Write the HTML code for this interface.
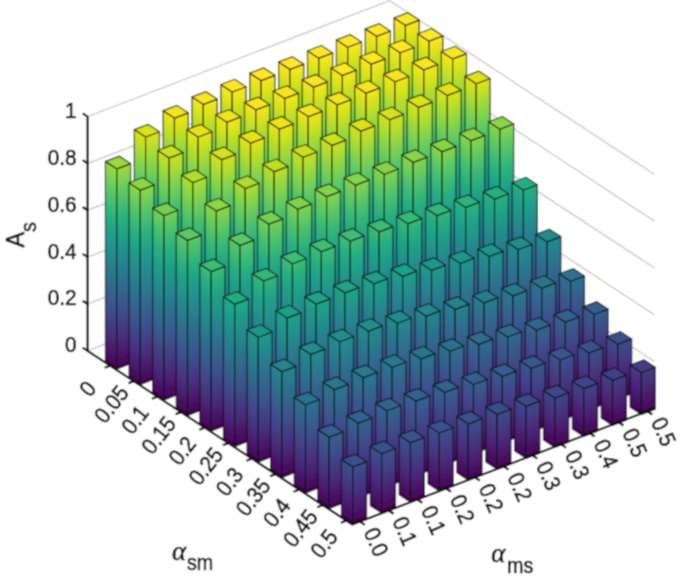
<!DOCTYPE html>
<html><head><meta charset="utf-8"><title>A_s bar chart</title><style>html,body{margin:0;padding:0;background:#fff}svg{display:block}</style></head><body>
<svg width="681" height="578" viewBox="0 0 681 578">
<defs><linearGradient id="gl" gradientUnits="userSpaceOnUse" x1="0" y1="0" x2="107.46" y2="-163.62"><stop offset="0" stop-color="#440154"/><stop offset="0.0625" stop-color="#48186a"/><stop offset="0.125" stop-color="#472d7b"/><stop offset="0.1875" stop-color="#424086"/><stop offset="0.25" stop-color="#3b528b"/><stop offset="0.3125" stop-color="#33638d"/><stop offset="0.375" stop-color="#2c728e"/><stop offset="0.4375" stop-color="#26828e"/><stop offset="0.5" stop-color="#21918c"/><stop offset="0.5625" stop-color="#1fa088"/><stop offset="0.625" stop-color="#28ae80"/><stop offset="0.6875" stop-color="#3fbc73"/><stop offset="0.75" stop-color="#5ec962"/><stop offset="0.8125" stop-color="#84d44b"/><stop offset="0.875" stop-color="#addc30"/><stop offset="0.9375" stop-color="#d8e219"/><stop offset="1" stop-color="#fde725"/></linearGradient><linearGradient id="gr" gradientUnits="userSpaceOnUse" x1="0" y1="0" x2="-77.66" y2="-204.75"><stop offset="0" stop-color="#440154"/><stop offset="0.0625" stop-color="#48186a"/><stop offset="0.125" stop-color="#472d7b"/><stop offset="0.1875" stop-color="#424086"/><stop offset="0.25" stop-color="#3b528b"/><stop offset="0.3125" stop-color="#33638d"/><stop offset="0.375" stop-color="#2c728e"/><stop offset="0.4375" stop-color="#26828e"/><stop offset="0.5" stop-color="#21918c"/><stop offset="0.5625" stop-color="#1fa088"/><stop offset="0.625" stop-color="#28ae80"/><stop offset="0.6875" stop-color="#3fbc73"/><stop offset="0.75" stop-color="#5ec962"/><stop offset="0.8125" stop-color="#84d44b"/><stop offset="0.875" stop-color="#addc30"/><stop offset="0.9375" stop-color="#d8e219"/><stop offset="1" stop-color="#fde725"/></linearGradient><filter id="bl" x="0" y="0" width="100%" height="100%" filterUnits="userSpaceOnUse" primitiveUnits="userSpaceOnUse"><feConvolveMatrix order="3" kernelMatrix="1 2 1 2 6 2 1 2 1" divisor="18" edgeMode="duplicate" preserveAlpha="true"/></filter></defs>
<g filter="url(#bl)">
<rect width="681" height="578" fill="#fff"/>
<g fill="none" stroke="#cdcdcd" stroke-width="1.5"><polyline points="87.6,350.8 389.7,234.8 654.4,408.5"/><polyline points="87.6,303.96 389.7,187.96 654.4,361.66"/><polyline points="87.6,257.12 389.7,141.12 654.4,314.82"/><polyline points="87.6,210.28 389.7,94.28 654.4,267.98"/><polyline points="87.6,163.44 389.7,47.44 654.4,221.14"/><polyline points="87.6,116.6 389.7,0.6 654.4,174.3"/></g>
<g stroke="#0c0c0c" stroke-opacity="0.74" stroke-width="1.25" stroke-linejoin="round"><g transform="translate(406.7,253.2)"><g transform="translate(-1.26,6.35)"><polygon fill="url(#gl)" points="-11.33,-7.44 0,0 0,-234.2 -11.33,-241.64"/></g><g transform="translate(-1.26,6.35)"><polygon fill="url(#gr)" points="0,0 13.86,-5.26 13.86,-239.46 0,-234.2"/></g><polygon fill="#fde725" points="-12.59,-235.29 -1.26,-227.85 12.59,-233.11 1.26,-240.55"/></g><g transform="translate(377.83,264.15)"><g transform="translate(-1.26,6.35)"><polygon fill="url(#gl)" points="-11.33,-7.44 0,0 0,-234.2 -11.33,-241.64"/></g><g transform="translate(-1.26,6.35)"><polygon fill="url(#gr)" points="0,0 13.86,-5.26 13.86,-239.46 0,-234.2"/></g><polygon fill="#fde725" points="-12.59,-235.29 -1.26,-227.85 12.59,-233.11 1.26,-240.55"/></g><g transform="translate(348.96,275.1)"><g transform="translate(-1.26,6.35)"><polygon fill="url(#gl)" points="-11.33,-7.44 0,0 0,-234.2 -11.33,-241.64"/></g><g transform="translate(-1.26,6.35)"><polygon fill="url(#gr)" points="0,0 13.86,-5.26 13.86,-239.46 0,-234.2"/></g><polygon fill="#fde725" points="-12.59,-235.29 -1.26,-227.85 12.59,-233.11 1.26,-240.55"/></g><g transform="translate(320.09,286.05)"><g transform="translate(-1.26,6.35)"><polygon fill="url(#gl)" points="-11.33,-7.44 0,0 0,-234.2 -11.33,-241.64"/></g><g transform="translate(-1.26,6.35)"><polygon fill="url(#gr)" points="0,0 13.86,-5.26 13.86,-239.46 0,-234.2"/></g><polygon fill="#fde725" points="-12.59,-235.29 -1.26,-227.85 12.59,-233.11 1.26,-240.55"/></g><g transform="translate(291.22,297)"><g transform="translate(-1.26,6.35)"><polygon fill="url(#gl)" points="-11.33,-7.44 0,0 0,-233.97 -11.33,-241.41"/></g><g transform="translate(-1.26,6.35)"><polygon fill="url(#gr)" points="0,0 13.86,-5.26 13.86,-239.22 0,-233.97"/></g><polygon fill="#fde725" points="-12.59,-235.06 -1.26,-227.62 12.59,-232.87 1.26,-240.31"/></g><g transform="translate(262.35,307.95)"><g transform="translate(-1.26,6.35)"><polygon fill="url(#gl)" points="-11.33,-7.44 0,0 0,-233.73 -11.33,-241.17"/></g><g transform="translate(-1.26,6.35)"><polygon fill="url(#gr)" points="0,0 13.86,-5.26 13.86,-238.99 0,-233.73"/></g><polygon fill="#fde725" points="-12.59,-234.82 -1.26,-227.38 12.59,-232.64 1.26,-240.08"/></g><g transform="translate(233.48,318.9)"><g transform="translate(-1.26,6.35)"><polygon fill="url(#gl)" points="-11.33,-7.44 0,0 0,-233.26 -11.33,-240.7"/></g><g transform="translate(-1.26,6.35)"><polygon fill="url(#gr)" points="0,0 13.86,-5.26 13.86,-238.52 0,-233.26"/></g><polygon fill="#fbe723" points="-12.59,-234.36 -1.26,-226.92 12.59,-232.17 1.26,-239.61"/></g><g transform="translate(204.61,329.85)"><g transform="translate(-1.26,6.35)"><polygon fill="url(#gl)" points="-11.33,-7.44 0,0 0,-231.86 -11.33,-239.3"/></g><g transform="translate(-1.26,6.35)"><polygon fill="url(#gr)" points="0,0 13.86,-5.26 13.86,-237.11 0,-231.86"/></g><polygon fill="#f8e621" points="-12.59,-232.95 -1.26,-225.51 12.59,-230.77 1.26,-238.21"/></g><g transform="translate(175.74,340.8)"><g transform="translate(-1.26,6.35)"><polygon fill="url(#gl)" points="-11.33,-7.44 0,0 0,-229.05 -11.33,-236.49"/></g><g transform="translate(-1.26,6.35)"><polygon fill="url(#gr)" points="0,0 13.86,-5.26 13.86,-234.3 0,-229.05"/></g><polygon fill="#f1e51d" points="-12.59,-230.14 -1.26,-222.7 12.59,-227.96 1.26,-235.4"/></g><g transform="translate(146.87,351.75)"><g transform="translate(-1.26,6.35)"><polygon fill="url(#gl)" points="-11.33,-7.44 0,0 0,-221.08 -11.33,-228.52"/></g><g transform="translate(-1.26,6.35)"><polygon fill="url(#gr)" points="0,0 13.86,-5.26 13.86,-226.34 0,-221.08"/></g><polygon fill="#dae319" points="-12.59,-222.18 -1.26,-214.74 12.59,-219.99 1.26,-227.43"/></g><g transform="translate(118,362.7)"><g transform="translate(-1.26,6.35)"><polygon fill="url(#gl)" points="-11.33,-7.44 0,0 0,-200.24 -11.33,-207.68"/></g><g transform="translate(-1.26,6.35)"><polygon fill="url(#gr)" points="0,0 13.86,-5.26 13.86,-205.5 0,-200.24"/></g><polygon fill="#9dd93b" points="-12.59,-201.33 -1.26,-193.89 12.59,-199.15 1.26,-206.59"/></g><g transform="translate(430.3,268.7)"><g transform="translate(-1.26,6.35)"><polygon fill="url(#gl)" points="-11.33,-7.44 0,0 0,-233.85 -11.33,-241.29"/></g><g transform="translate(-1.26,6.35)"><polygon fill="url(#gr)" points="0,0 13.86,-5.26 13.86,-239.1 0,-233.85"/></g><polygon fill="#fde725" points="-12.59,-234.94 -1.26,-227.5 12.59,-232.76 1.26,-240.2"/></g><g transform="translate(401.43,279.65)"><g transform="translate(-1.26,6.35)"><polygon fill="url(#gl)" points="-11.33,-7.44 0,0 0,-233.26 -11.33,-240.7"/></g><g transform="translate(-1.26,6.35)"><polygon fill="url(#gr)" points="0,0 13.86,-5.26 13.86,-238.52 0,-233.26"/></g><polygon fill="#fbe723" points="-12.59,-234.36 -1.26,-226.92 12.59,-232.17 1.26,-239.61"/></g><g transform="translate(372.56,290.6)"><g transform="translate(-1.26,6.35)"><polygon fill="url(#gl)" points="-11.33,-7.44 0,0 0,-232.75 -11.33,-240.19"/></g><g transform="translate(-1.26,6.35)"><polygon fill="url(#gr)" points="0,0 13.86,-5.26 13.86,-238 0,-232.75"/></g><polygon fill="#fbe723" points="-12.59,-233.84 -1.26,-226.4 12.59,-231.66 1.26,-239.1"/></g><g transform="translate(343.69,301.55)"><g transform="translate(-1.26,6.35)"><polygon fill="url(#gl)" points="-11.33,-7.44 0,0 0,-232.49 -11.33,-239.93"/></g><g transform="translate(-1.26,6.35)"><polygon fill="url(#gr)" points="0,0 13.86,-5.26 13.86,-237.75 0,-232.49"/></g><polygon fill="#fbe723" points="-12.59,-233.58 -1.26,-226.14 12.59,-231.4 1.26,-238.84"/></g><g transform="translate(314.82,312.5)"><g transform="translate(-1.26,6.35)"><polygon fill="url(#gl)" points="-11.33,-7.44 0,0 0,-231.74 -11.33,-239.18"/></g><g transform="translate(-1.26,6.35)"><polygon fill="url(#gr)" points="0,0 13.86,-5.26 13.86,-237 0,-231.74"/></g><polygon fill="#f8e621" points="-12.59,-232.83 -1.26,-225.39 12.59,-230.65 1.26,-238.09"/></g><g transform="translate(285.95,323.45)"><g transform="translate(-1.26,6.35)"><polygon fill="url(#gl)" points="-11.33,-7.44 0,0 0,-231.39 -11.33,-238.83"/></g><g transform="translate(-1.26,6.35)"><polygon fill="url(#gr)" points="0,0 13.86,-5.26 13.86,-236.65 0,-231.39"/></g><polygon fill="#f6e620" points="-12.59,-232.48 -1.26,-225.04 12.59,-230.3 1.26,-237.74"/></g><g transform="translate(257.08,334.4)"><g transform="translate(-1.26,6.35)"><polygon fill="url(#gl)" points="-11.33,-7.44 0,0 0,-230.92 -11.33,-238.36"/></g><g transform="translate(-1.26,6.35)"><polygon fill="url(#gr)" points="0,0 13.86,-5.26 13.86,-236.18 0,-230.92"/></g><polygon fill="#f6e620" points="-12.59,-232.01 -1.26,-224.57 12.59,-229.83 1.26,-237.27"/></g><g transform="translate(228.21,345.35)"><g transform="translate(-1.26,6.35)"><polygon fill="url(#gl)" points="-11.33,-7.44 0,0 0,-229.52 -11.33,-236.96"/></g><g transform="translate(-1.26,6.35)"><polygon fill="url(#gr)" points="0,0 13.86,-5.26 13.86,-234.77 0,-229.52"/></g><polygon fill="#f1e51d" points="-12.59,-230.61 -1.26,-223.17 12.59,-228.42 1.26,-235.86"/></g><g transform="translate(199.34,356.3)"><g transform="translate(-1.26,6.35)"><polygon fill="url(#gl)" points="-11.33,-7.44 0,0 0,-225.65 -11.33,-233.09"/></g><g transform="translate(-1.26,6.35)"><polygon fill="url(#gr)" points="0,0 13.86,-5.26 13.86,-230.91 0,-225.65"/></g><polygon fill="#e7e419" points="-12.59,-226.74 -1.26,-219.3 12.59,-224.56 1.26,-232"/></g><g transform="translate(170.47,367.25)"><g transform="translate(-1.26,6.35)"><polygon fill="url(#gl)" points="-11.33,-7.44 0,0 0,-215.7 -11.33,-223.14"/></g><g transform="translate(-1.26,6.35)"><polygon fill="url(#gr)" points="0,0 13.86,-5.26 13.86,-220.95 0,-215.7"/></g><polygon fill="#cae11f" points="-12.59,-216.79 -1.26,-209.35 12.59,-214.61 1.26,-222.05"/></g><g transform="translate(141.6,378.2)"><g transform="translate(-1.26,6.35)"><polygon fill="url(#gl)" points="-11.33,-7.44 0,0 0,-194.39 -11.33,-201.83"/></g><g transform="translate(-1.26,6.35)"><polygon fill="url(#gr)" points="0,0 13.86,-5.26 13.86,-199.64 0,-194.39"/></g><polygon fill="#8ed645" points="-12.59,-195.48 -1.26,-188.04 12.59,-193.29 1.26,-200.73"/></g><g transform="translate(453.9,284.2)"><g transform="translate(-1.26,6.35)"><polygon fill="url(#gl)" points="-11.33,-7.44 0,0 0,-231.62 -11.33,-239.06"/></g><g transform="translate(-1.26,6.35)"><polygon fill="url(#gr)" points="0,0 13.86,-5.26 13.86,-236.88 0,-231.62"/></g><polygon fill="#f8e621" points="-12.59,-232.72 -1.26,-225.28 12.59,-230.53 1.26,-237.97"/></g><g transform="translate(425.03,295.15)"><g transform="translate(-1.26,6.35)"><polygon fill="url(#gl)" points="-11.33,-7.44 0,0 0,-231.62 -11.33,-239.06"/></g><g transform="translate(-1.26,6.35)"><polygon fill="url(#gr)" points="0,0 13.86,-5.26 13.86,-236.88 0,-231.62"/></g><polygon fill="#f8e621" points="-12.59,-232.72 -1.26,-225.28 12.59,-230.53 1.26,-237.97"/></g><g transform="translate(396.16,306.1)"><g transform="translate(-1.26,6.35)"><polygon fill="url(#gl)" points="-11.33,-7.44 0,0 0,-230.69 -11.33,-238.13"/></g><g transform="translate(-1.26,6.35)"><polygon fill="url(#gr)" points="0,0 13.86,-5.26 13.86,-235.94 0,-230.69"/></g><polygon fill="#f6e620" points="-12.59,-231.78 -1.26,-224.34 12.59,-229.59 1.26,-237.03"/></g><g transform="translate(367.29,317.05)"><g transform="translate(-1.26,6.35)"><polygon fill="url(#gl)" points="-11.33,-7.44 0,0 0,-230.22 -11.33,-237.66"/></g><g transform="translate(-1.26,6.35)"><polygon fill="url(#gr)" points="0,0 13.86,-5.26 13.86,-235.47 0,-230.22"/></g><polygon fill="#f4e61e" points="-12.59,-231.31 -1.26,-223.87 12.59,-229.13 1.26,-236.57"/></g><g transform="translate(338.42,328)"><g transform="translate(-1.26,6.35)"><polygon fill="url(#gl)" points="-11.33,-7.44 0,0 0,-229.52 -11.33,-236.96"/></g><g transform="translate(-1.26,6.35)"><polygon fill="url(#gr)" points="0,0 13.86,-5.26 13.86,-234.77 0,-229.52"/></g><polygon fill="#f1e51d" points="-12.59,-230.61 -1.26,-223.17 12.59,-228.42 1.26,-235.86"/></g><g transform="translate(309.55,338.95)"><g transform="translate(-1.26,6.35)"><polygon fill="url(#gl)" points="-11.33,-7.44 0,0 0,-228.7 -11.33,-236.14"/></g><g transform="translate(-1.26,6.35)"><polygon fill="url(#gr)" points="0,0 13.86,-5.26 13.86,-233.95 0,-228.7"/></g><polygon fill="#efe51c" points="-12.59,-229.79 -1.26,-222.35 12.59,-227.6 1.26,-235.04"/></g><g transform="translate(280.68,349.9)"><g transform="translate(-1.26,6.35)"><polygon fill="url(#gl)" points="-11.33,-7.44 0,0 0,-227.17 -11.33,-234.61"/></g><g transform="translate(-1.26,6.35)"><polygon fill="url(#gr)" points="0,0 13.86,-5.26 13.86,-232.43 0,-227.17"/></g><polygon fill="#ece51b" points="-12.59,-228.27 -1.26,-220.83 12.59,-226.08 1.26,-233.52"/></g><g transform="translate(251.81,360.85)"><g transform="translate(-1.26,6.35)"><polygon fill="url(#gl)" points="-11.33,-7.44 0,0 0,-224.13 -11.33,-231.57"/></g><g transform="translate(-1.26,6.35)"><polygon fill="url(#gr)" points="0,0 13.86,-5.26 13.86,-229.39 0,-224.13"/></g><polygon fill="#e2e418" points="-12.59,-225.22 -1.26,-217.78 12.59,-223.04 1.26,-230.48"/></g><g transform="translate(222.94,371.8)"><g transform="translate(-1.26,6.35)"><polygon fill="url(#gl)" points="-11.33,-7.44 0,0 0,-218.51 -11.33,-225.95"/></g><g transform="translate(-1.26,6.35)"><polygon fill="url(#gr)" points="0,0 13.86,-5.26 13.86,-223.76 0,-218.51"/></g><polygon fill="#d2e21b" points="-12.59,-219.6 -1.26,-212.16 12.59,-217.42 1.26,-224.86"/></g><g transform="translate(194.07,382.75)"><g transform="translate(-1.26,6.35)"><polygon fill="url(#gl)" points="-11.33,-7.44 0,0 0,-206.56 -11.33,-214"/></g><g transform="translate(-1.26,6.35)"><polygon fill="url(#gr)" points="0,0 13.86,-5.26 13.86,-211.82 0,-206.56"/></g><polygon fill="#b0dd2f" points="-12.59,-207.66 -1.26,-200.22 12.59,-205.47 1.26,-212.91"/></g><g transform="translate(165.2,393.7)"><g transform="translate(-1.26,6.35)"><polygon fill="url(#gl)" points="-11.33,-7.44 0,0 0,-184.55 -11.33,-191.99"/></g><g transform="translate(-1.26,6.35)"><polygon fill="url(#gr)" points="0,0 13.86,-5.26 13.86,-189.81 0,-184.55"/></g><polygon fill="#73d056" points="-12.59,-185.64 -1.26,-178.2 12.59,-183.46 1.26,-190.9"/></g><g transform="translate(477.5,299.7)"><g transform="translate(-1.26,6.35)"><polygon fill="url(#gl)" points="-11.33,-7.44 0,0 0,-222.26 -11.33,-229.7"/></g><g transform="translate(-1.26,6.35)"><polygon fill="url(#gr)" points="0,0 13.86,-5.26 13.86,-227.51 0,-222.26"/></g><polygon fill="#dde318" points="-12.59,-223.35 -1.26,-215.91 12.59,-221.16 1.26,-228.6"/></g><g transform="translate(448.63,310.65)"><g transform="translate(-1.26,6.35)"><polygon fill="url(#gl)" points="-11.33,-7.44 0,0 0,-221.55 -11.33,-228.99"/></g><g transform="translate(-1.26,6.35)"><polygon fill="url(#gr)" points="0,0 13.86,-5.26 13.86,-226.81 0,-221.55"/></g><polygon fill="#dde318" points="-12.59,-222.65 -1.26,-215.21 12.59,-220.46 1.26,-227.9"/></g><g transform="translate(419.76,321.6)"><g transform="translate(-1.26,6.35)"><polygon fill="url(#gl)" points="-11.33,-7.44 0,0 0,-220.62 -11.33,-228.06"/></g><g transform="translate(-1.26,6.35)"><polygon fill="url(#gr)" points="0,0 13.86,-5.26 13.86,-225.87 0,-220.62"/></g><polygon fill="#dae319" points="-12.59,-221.71 -1.26,-214.27 12.59,-219.52 1.26,-226.96"/></g><g transform="translate(390.89,332.55)"><g transform="translate(-1.26,6.35)"><polygon fill="url(#gl)" points="-11.33,-7.44 0,0 0,-219.21 -11.33,-226.65"/></g><g transform="translate(-1.26,6.35)"><polygon fill="url(#gr)" points="0,0 13.86,-5.26 13.86,-224.47 0,-219.21"/></g><polygon fill="#d5e21a" points="-12.59,-220.3 -1.26,-212.86 12.59,-218.12 1.26,-225.56"/></g><g transform="translate(362.02,343.5)"><g transform="translate(-1.26,6.35)"><polygon fill="url(#gl)" points="-11.33,-7.44 0,0 0,-218.74 -11.33,-226.18"/></g><g transform="translate(-1.26,6.35)"><polygon fill="url(#gr)" points="0,0 13.86,-5.26 13.86,-224 0,-218.74"/></g><polygon fill="#d5e21a" points="-12.59,-219.83 -1.26,-212.39 12.59,-217.65 1.26,-225.09"/></g><g transform="translate(333.15,354.45)"><g transform="translate(-1.26,6.35)"><polygon fill="url(#gl)" points="-11.33,-7.44 0,0 0,-215.46 -11.33,-222.9"/></g><g transform="translate(-1.26,6.35)"><polygon fill="url(#gr)" points="0,0 13.86,-5.26 13.86,-220.72 0,-215.46"/></g><polygon fill="#cae11f" points="-12.59,-216.56 -1.26,-209.12 12.59,-214.37 1.26,-221.81"/></g><g transform="translate(304.28,365.4)"><g transform="translate(-1.26,6.35)"><polygon fill="url(#gl)" points="-11.33,-7.44 0,0 0,-214.53 -11.33,-221.97"/></g><g transform="translate(-1.26,6.35)"><polygon fill="url(#gr)" points="0,0 13.86,-5.26 13.86,-219.78 0,-214.53"/></g><polygon fill="#c8e020" points="-12.59,-215.62 -1.26,-208.18 12.59,-213.44 1.26,-220.88"/></g><g transform="translate(275.41,376.35)"><g transform="translate(-1.26,6.35)"><polygon fill="url(#gl)" points="-11.33,-7.44 0,0 0,-211.01 -11.33,-218.45"/></g><g transform="translate(-1.26,6.35)"><polygon fill="url(#gr)" points="0,0 13.86,-5.26 13.86,-216.27 0,-211.01"/></g><polygon fill="#bddf26" points="-12.59,-212.11 -1.26,-204.67 12.59,-209.92 1.26,-217.36"/></g><g transform="translate(246.54,387.3)"><g transform="translate(-1.26,6.35)"><polygon fill="url(#gl)" points="-11.33,-7.44 0,0 0,-205.16 -11.33,-212.6"/></g><g transform="translate(-1.26,6.35)"><polygon fill="url(#gr)" points="0,0 13.86,-5.26 13.86,-210.42 0,-205.16"/></g><polygon fill="#addc30" points="-12.59,-206.25 -1.26,-198.81 12.59,-204.07 1.26,-211.51"/></g><g transform="translate(217.67,398.25)"><g transform="translate(-1.26,6.35)"><polygon fill="url(#gl)" points="-11.33,-7.44 0,0 0,-193.68 -11.33,-201.12"/></g><g transform="translate(-1.26,6.35)"><polygon fill="url(#gr)" points="0,0 13.86,-5.26 13.86,-198.94 0,-193.68"/></g><polygon fill="#8bd646" points="-12.59,-194.78 -1.26,-187.34 12.59,-192.59 1.26,-200.03"/></g><g transform="translate(188.8,409.2)"><g transform="translate(-1.26,6.35)"><polygon fill="url(#gl)" points="-11.33,-7.44 0,0 0,-175.18 -11.33,-182.62"/></g><g transform="translate(-1.26,6.35)"><polygon fill="url(#gr)" points="0,0 13.86,-5.26 13.86,-180.44 0,-175.18"/></g><polygon fill="#5cc863" points="-12.59,-176.27 -1.26,-168.83 12.59,-174.09 1.26,-181.53"/></g><g transform="translate(501.1,315.2)"><g transform="translate(-1.26,6.35)"><polygon fill="url(#gl)" points="-11.33,-7.44 0,0 0,-192.4 -11.33,-199.84"/></g><g transform="translate(-1.26,6.35)"><polygon fill="url(#gr)" points="0,0 13.86,-5.26 13.86,-197.65 0,-192.4"/></g><polygon fill="#89d548" points="-12.59,-193.49 -1.26,-186.05 12.59,-191.3 1.26,-198.74"/></g><g transform="translate(472.23,326.15)"><g transform="translate(-1.26,6.35)"><polygon fill="url(#gl)" points="-11.33,-7.44 0,0 0,-191.81 -11.33,-199.25"/></g><g transform="translate(-1.26,6.35)"><polygon fill="url(#gr)" points="0,0 13.86,-5.26 13.86,-197.07 0,-191.81"/></g><polygon fill="#86d549" points="-12.59,-192.9 -1.26,-185.46 12.59,-190.72 1.26,-198.16"/></g><g transform="translate(443.36,337.1)"><g transform="translate(-1.26,6.35)"><polygon fill="url(#gl)" points="-11.33,-7.44 0,0 0,-191.81 -11.33,-199.25"/></g><g transform="translate(-1.26,6.35)"><polygon fill="url(#gr)" points="0,0 13.86,-5.26 13.86,-197.07 0,-191.81"/></g><polygon fill="#86d549" points="-12.59,-192.9 -1.26,-185.46 12.59,-190.72 1.26,-198.16"/></g><g transform="translate(414.49,348.05)"><g transform="translate(-1.26,6.35)"><polygon fill="url(#gl)" points="-11.33,-7.44 0,0 0,-192.04 -11.33,-199.48"/></g><g transform="translate(-1.26,6.35)"><polygon fill="url(#gr)" points="0,0 13.86,-5.26 13.86,-197.3 0,-192.04"/></g><polygon fill="#86d549" points="-12.59,-193.14 -1.26,-185.7 12.59,-190.95 1.26,-198.39"/></g><g transform="translate(385.62,359)"><g transform="translate(-1.26,6.35)"><polygon fill="url(#gl)" points="-11.33,-7.44 0,0 0,-191.11 -11.33,-198.55"/></g><g transform="translate(-1.26,6.35)"><polygon fill="url(#gr)" points="0,0 13.86,-5.26 13.86,-196.36 0,-191.11"/></g><polygon fill="#84d44b" points="-12.59,-192.2 -1.26,-184.76 12.59,-190.02 1.26,-197.46"/></g><g transform="translate(356.75,369.95)"><g transform="translate(-1.26,6.35)"><polygon fill="url(#gl)" points="-11.33,-7.44 0,0 0,-191.11 -11.33,-198.55"/></g><g transform="translate(-1.26,6.35)"><polygon fill="url(#gr)" points="0,0 13.86,-5.26 13.86,-196.36 0,-191.11"/></g><polygon fill="#84d44b" points="-12.59,-192.2 -1.26,-184.76 12.59,-190.02 1.26,-197.46"/></g><g transform="translate(327.88,380.9)"><g transform="translate(-1.26,6.35)"><polygon fill="url(#gl)" points="-11.33,-7.44 0,0 0,-190.64 -11.33,-198.08"/></g><g transform="translate(-1.26,6.35)"><polygon fill="url(#gr)" points="0,0 13.86,-5.26 13.86,-195.89 0,-190.64"/></g><polygon fill="#84d44b" points="-12.59,-191.73 -1.26,-184.29 12.59,-189.55 1.26,-196.99"/></g><g transform="translate(299.01,391.85)"><g transform="translate(-1.26,6.35)"><polygon fill="url(#gl)" points="-11.33,-7.44 0,0 0,-189 -11.33,-196.44"/></g><g transform="translate(-1.26,6.35)"><polygon fill="url(#gr)" points="0,0 13.86,-5.26 13.86,-194.26 0,-189"/></g><polygon fill="#7fd34e" points="-12.59,-190.09 -1.26,-182.65 12.59,-187.91 1.26,-195.35"/></g><g transform="translate(270.14,402.8)"><g transform="translate(-1.26,6.35)"><polygon fill="url(#gl)" points="-11.33,-7.44 0,0 0,-185.02 -11.33,-192.46"/></g><g transform="translate(-1.26,6.35)"><polygon fill="url(#gr)" points="0,0 13.86,-5.26 13.86,-190.27 0,-185.02"/></g><polygon fill="#75d054" points="-12.59,-186.11 -1.26,-178.67 12.59,-183.93 1.26,-191.37"/></g><g transform="translate(241.27,413.75)"><g transform="translate(-1.26,6.35)"><polygon fill="url(#gl)" points="-11.33,-7.44 0,0 0,-174.71 -11.33,-182.15"/></g><g transform="translate(-1.26,6.35)"><polygon fill="url(#gr)" points="0,0 13.86,-5.26 13.86,-179.97 0,-174.71"/></g><polygon fill="#5ac864" points="-12.59,-175.81 -1.26,-168.37 12.59,-173.62 1.26,-181.06"/></g><g transform="translate(212.4,424.7)"><g transform="translate(-1.26,6.35)"><polygon fill="url(#gl)" points="-11.33,-7.44 0,0 0,-159.49 -11.33,-166.93"/></g><g transform="translate(-1.26,6.35)"><polygon fill="url(#gr)" points="0,0 13.86,-5.26 13.86,-164.75 0,-159.49"/></g><polygon fill="#3bbb75" points="-12.59,-160.58 -1.26,-153.14 12.59,-158.4 1.26,-165.84"/></g><g transform="translate(524.7,330.7)"><g transform="translate(-1.26,6.35)"><polygon fill="url(#gl)" points="-11.33,-7.44 0,0 0,-147.08 -11.33,-154.52"/></g><g transform="translate(-1.26,6.35)"><polygon fill="url(#gr)" points="0,0 13.86,-5.26 13.86,-152.33 0,-147.08"/></g><polygon fill="#28ae80" points="-12.59,-148.17 -1.26,-140.73 12.59,-145.99 1.26,-153.43"/></g><g transform="translate(495.83,341.65)"><g transform="translate(-1.26,6.35)"><polygon fill="url(#gl)" points="-11.33,-7.44 0,0 0,-148.95 -11.33,-156.39"/></g><g transform="translate(-1.26,6.35)"><polygon fill="url(#gr)" points="0,0 13.86,-5.26 13.86,-154.21 0,-148.95"/></g><polygon fill="#2ab07f" points="-12.59,-150.04 -1.26,-142.6 12.59,-147.86 1.26,-155.3"/></g><g transform="translate(466.96,352.6)"><g transform="translate(-1.26,6.35)"><polygon fill="url(#gl)" points="-11.33,-7.44 0,0 0,-151.53 -11.33,-158.97"/></g><g transform="translate(-1.26,6.35)"><polygon fill="url(#gr)" points="0,0 13.86,-5.26 13.86,-156.78 0,-151.53"/></g><polygon fill="#2eb37c" points="-12.59,-152.62 -1.26,-145.18 12.59,-150.44 1.26,-157.88"/></g><g transform="translate(438.09,363.55)"><g transform="translate(-1.26,6.35)"><polygon fill="url(#gl)" points="-11.33,-7.44 0,0 0,-154.34 -11.33,-161.78"/></g><g transform="translate(-1.26,6.35)"><polygon fill="url(#gr)" points="0,0 13.86,-5.26 13.86,-159.59 0,-154.34"/></g><polygon fill="#32b67a" points="-12.59,-155.43 -1.26,-147.99 12.59,-153.25 1.26,-160.69"/></g><g transform="translate(409.22,374.5)"><g transform="translate(-1.26,6.35)"><polygon fill="url(#gl)" points="-11.33,-7.44 0,0 0,-157.15 -11.33,-164.59"/></g><g transform="translate(-1.26,6.35)"><polygon fill="url(#gr)" points="0,0 13.86,-5.26 13.86,-162.4 0,-157.15"/></g><polygon fill="#37b878" points="-12.59,-158.24 -1.26,-150.8 12.59,-156.06 1.26,-163.5"/></g><g transform="translate(380.35,385.45)"><g transform="translate(-1.26,6.35)"><polygon fill="url(#gl)" points="-11.33,-7.44 0,0 0,-159.96 -11.33,-167.4"/></g><g transform="translate(-1.26,6.35)"><polygon fill="url(#gr)" points="0,0 13.86,-5.26 13.86,-165.21 0,-159.96"/></g><polygon fill="#3bbb75" points="-12.59,-161.05 -1.26,-153.61 12.59,-158.87 1.26,-166.31"/></g><g transform="translate(351.48,396.4)"><g transform="translate(-1.26,6.35)"><polygon fill="url(#gl)" points="-11.33,-7.44 0,0 0,-161.6 -11.33,-169.04"/></g><g transform="translate(-1.26,6.35)"><polygon fill="url(#gr)" points="0,0 13.86,-5.26 13.86,-166.85 0,-161.6"/></g><polygon fill="#3fbc73" points="-12.59,-162.69 -1.26,-155.25 12.59,-160.51 1.26,-167.95"/></g><g transform="translate(322.61,407.35)"><g transform="translate(-1.26,6.35)"><polygon fill="url(#gl)" points="-11.33,-7.44 0,0 0,-162.07 -11.33,-169.51"/></g><g transform="translate(-1.26,6.35)"><polygon fill="url(#gr)" points="0,0 13.86,-5.26 13.86,-167.32 0,-162.07"/></g><polygon fill="#40bd72" points="-12.59,-163.16 -1.26,-155.72 12.59,-160.97 1.26,-168.41"/></g><g transform="translate(293.74,418.3)"><g transform="translate(-1.26,6.35)"><polygon fill="url(#gl)" points="-11.33,-7.44 0,0 0,-160.9 -11.33,-168.34"/></g><g transform="translate(-1.26,6.35)"><polygon fill="url(#gr)" points="0,0 13.86,-5.26 13.86,-166.15 0,-160.9"/></g><polygon fill="#3dbc74" points="-12.59,-161.99 -1.26,-154.55 12.59,-159.8 1.26,-167.24"/></g><g transform="translate(264.87,429.25)"><g transform="translate(-1.26,6.35)"><polygon fill="url(#gl)" points="-11.33,-7.44 0,0 0,-154.57 -11.33,-162.01"/></g><g transform="translate(-1.26,6.35)"><polygon fill="url(#gr)" points="0,0 13.86,-5.26 13.86,-159.83 0,-154.57"/></g><polygon fill="#32b67a" points="-12.59,-155.66 -1.26,-148.22 12.59,-153.48 1.26,-160.92"/></g><g transform="translate(236,440.2)"><g transform="translate(-1.26,6.35)"><polygon fill="url(#gl)" points="-11.33,-7.44 0,0 0,-142.39 -11.33,-149.83"/></g><g transform="translate(-1.26,6.35)"><polygon fill="url(#gr)" points="0,0 13.86,-5.26 13.86,-147.65 0,-142.39"/></g><polygon fill="#24aa83" points="-12.59,-143.49 -1.26,-136.05 12.59,-141.3 1.26,-148.74"/></g><g transform="translate(548.3,346.2)"><g transform="translate(-1.26,6.35)"><polygon fill="url(#gl)" points="-11.33,-7.44 0,0 0,-110.71 -11.33,-118.15"/></g><g transform="translate(-1.26,6.35)"><polygon fill="url(#gr)" points="0,0 13.86,-5.26 13.86,-115.96 0,-110.71"/></g><polygon fill="#238a8d" points="-12.59,-111.8 -1.26,-104.36 12.59,-109.61 1.26,-117.05"/></g><g transform="translate(519.43,357.15)"><g transform="translate(-1.26,6.35)"><polygon fill="url(#gl)" points="-11.33,-7.44 0,0 0,-113.96 -11.33,-121.4"/></g><g transform="translate(-1.26,6.35)"><polygon fill="url(#gr)" points="0,0 13.86,-5.26 13.86,-119.22 0,-113.96"/></g><polygon fill="#228d8d" points="-12.59,-115.05 -1.26,-107.61 12.59,-112.87 1.26,-120.31"/></g><g transform="translate(490.56,368.1)"><g transform="translate(-1.26,6.35)"><polygon fill="url(#gl)" points="-11.33,-7.44 0,0 0,-118.04 -11.33,-125.48"/></g><g transform="translate(-1.26,6.35)"><polygon fill="url(#gr)" points="0,0 13.86,-5.26 13.86,-123.29 0,-118.04"/></g><polygon fill="#20928c" points="-12.59,-119.13 -1.26,-111.69 12.59,-116.94 1.26,-124.38"/></g><g transform="translate(461.69,379.05)"><g transform="translate(-1.26,6.35)"><polygon fill="url(#gl)" points="-11.33,-7.44 0,0 0,-121.95 -11.33,-129.39"/></g><g transform="translate(-1.26,6.35)"><polygon fill="url(#gr)" points="0,0 13.86,-5.26 13.86,-127.2 0,-121.95"/></g><polygon fill="#1f958b" points="-12.59,-123.04 -1.26,-115.6 12.59,-120.86 1.26,-128.3"/></g><g transform="translate(432.82,390)"><g transform="translate(-1.26,6.35)"><polygon fill="url(#gl)" points="-11.33,-7.44 0,0 0,-126.05 -11.33,-133.49"/></g><g transform="translate(-1.26,6.35)"><polygon fill="url(#gr)" points="0,0 13.86,-5.26 13.86,-131.3 0,-126.05"/></g><polygon fill="#1f998a" points="-12.59,-127.14 -1.26,-119.7 12.59,-124.95 1.26,-132.39"/></g><g transform="translate(403.95,400.95)"><g transform="translate(-1.26,6.35)"><polygon fill="url(#gl)" points="-11.33,-7.44 0,0 0,-130.92 -11.33,-138.36"/></g><g transform="translate(-1.26,6.35)"><polygon fill="url(#gr)" points="0,0 13.86,-5.26 13.86,-136.17 0,-130.92"/></g><polygon fill="#1f9f88" points="-12.59,-132.01 -1.26,-124.57 12.59,-129.83 1.26,-137.27"/></g><g transform="translate(375.08,411.9)"><g transform="translate(-1.26,6.35)"><polygon fill="url(#gl)" points="-11.33,-7.44 0,0 0,-134.43 -11.33,-141.87"/></g><g transform="translate(-1.26,6.35)"><polygon fill="url(#gr)" points="0,0 13.86,-5.26 13.86,-139.69 0,-134.43"/></g><polygon fill="#1fa187" points="-12.59,-135.52 -1.26,-128.08 12.59,-133.34 1.26,-140.78"/></g><g transform="translate(346.21,422.85)"><g transform="translate(-1.26,6.35)"><polygon fill="url(#gl)" points="-11.33,-7.44 0,0 0,-136.3 -11.33,-143.74"/></g><g transform="translate(-1.26,6.35)"><polygon fill="url(#gr)" points="0,0 13.86,-5.26 13.86,-141.56 0,-136.3"/></g><polygon fill="#20a386" points="-12.59,-137.4 -1.26,-129.96 12.59,-135.21 1.26,-142.65"/></g><g transform="translate(317.34,433.8)"><g transform="translate(-1.26,6.35)"><polygon fill="url(#gl)" points="-11.33,-7.44 0,0 0,-136.07 -11.33,-143.51"/></g><g transform="translate(-1.26,6.35)"><polygon fill="url(#gr)" points="0,0 13.86,-5.26 13.86,-141.33 0,-136.07"/></g><polygon fill="#20a386" points="-12.59,-137.16 -1.26,-129.72 12.59,-134.98 1.26,-142.42"/></g><g transform="translate(288.47,444.75)"><g transform="translate(-1.26,6.35)"><polygon fill="url(#gl)" points="-11.33,-7.44 0,0 0,-133.19 -11.33,-140.63"/></g><g transform="translate(-1.26,6.35)"><polygon fill="url(#gr)" points="0,0 13.86,-5.26 13.86,-138.45 0,-133.19"/></g><polygon fill="#1fa188" points="-12.59,-134.28 -1.26,-126.84 12.59,-132.1 1.26,-139.54"/></g><g transform="translate(259.6,455.7)"><g transform="translate(-1.26,6.35)"><polygon fill="url(#gl)" points="-11.33,-7.44 0,0 0,-124.83 -11.33,-132.27"/></g><g transform="translate(-1.26,6.35)"><polygon fill="url(#gr)" points="0,0 13.86,-5.26 13.86,-130.08 0,-124.83"/></g><polygon fill="#1f988b" points="-12.59,-125.92 -1.26,-118.48 12.59,-123.74 1.26,-131.18"/></g><g transform="translate(571.9,361.7)"><g transform="translate(-1.26,6.35)"><polygon fill="url(#gl)" points="-11.33,-7.44 0,0 0,-86.84 -11.33,-94.28"/></g><g transform="translate(-1.26,6.35)"><polygon fill="url(#gr)" points="0,0 13.86,-5.26 13.86,-92.1 0,-86.84"/></g><polygon fill="#2d718e" points="-12.59,-87.93 -1.26,-80.49 12.59,-85.75 1.26,-93.19"/></g><g transform="translate(543.03,372.65)"><g transform="translate(-1.26,6.35)"><polygon fill="url(#gl)" points="-11.33,-7.44 0,0 0,-90.82 -11.33,-98.26"/></g><g transform="translate(-1.26,6.35)"><polygon fill="url(#gr)" points="0,0 13.86,-5.26 13.86,-96.08 0,-90.82"/></g><polygon fill="#2b758e" points="-12.59,-91.91 -1.26,-84.47 12.59,-89.73 1.26,-97.17"/></g><g transform="translate(514.16,383.6)"><g transform="translate(-1.26,6.35)"><polygon fill="url(#gl)" points="-11.33,-7.44 0,0 0,-94.1 -11.33,-101.54"/></g><g transform="translate(-1.26,6.35)"><polygon fill="url(#gr)" points="0,0 13.86,-5.26 13.86,-99.36 0,-94.1"/></g><polygon fill="#2a788e" points="-12.59,-95.19 -1.26,-87.75 12.59,-93.01 1.26,-100.45"/></g><g transform="translate(485.29,394.55)"><g transform="translate(-1.26,6.35)"><polygon fill="url(#gl)" points="-11.33,-7.44 0,0 0,-97.99 -11.33,-105.43"/></g><g transform="translate(-1.26,6.35)"><polygon fill="url(#gr)" points="0,0 13.86,-5.26 13.86,-103.25 0,-97.99"/></g><polygon fill="#287d8e" points="-12.59,-99.08 -1.26,-91.64 12.59,-96.9 1.26,-104.34"/></g><g transform="translate(456.42,405.5)"><g transform="translate(-1.26,6.35)"><polygon fill="url(#gl)" points="-11.33,-7.44 0,0 0,-102.46 -11.33,-109.9"/></g><g transform="translate(-1.26,6.35)"><polygon fill="url(#gr)" points="0,0 13.86,-5.26 13.86,-107.72 0,-102.46"/></g><polygon fill="#26828e" points="-12.59,-103.55 -1.26,-96.11 12.59,-101.37 1.26,-108.81"/></g><g transform="translate(427.55,416.45)"><g transform="translate(-1.26,6.35)"><polygon fill="url(#gl)" points="-11.33,-7.44 0,0 0,-106.63 -11.33,-114.07"/></g><g transform="translate(-1.26,6.35)"><polygon fill="url(#gr)" points="0,0 13.86,-5.26 13.86,-111.89 0,-106.63"/></g><polygon fill="#25858e" points="-12.59,-107.72 -1.26,-100.28 12.59,-105.54 1.26,-112.98"/></g><g transform="translate(398.68,427.4)"><g transform="translate(-1.26,6.35)"><polygon fill="url(#gl)" points="-11.33,-7.44 0,0 0,-110.47 -11.33,-117.91"/></g><g transform="translate(-1.26,6.35)"><polygon fill="url(#gr)" points="0,0 13.86,-5.26 13.86,-115.73 0,-110.47"/></g><polygon fill="#23898e" points="-12.59,-111.56 -1.26,-104.12 12.59,-109.38 1.26,-116.82"/></g><g transform="translate(369.81,438.35)"><g transform="translate(-1.26,6.35)"><polygon fill="url(#gl)" points="-11.33,-7.44 0,0 0,-113.54 -11.33,-120.98"/></g><g transform="translate(-1.26,6.35)"><polygon fill="url(#gr)" points="0,0 13.86,-5.26 13.86,-118.8 0,-113.54"/></g><polygon fill="#228d8d" points="-12.59,-114.63 -1.26,-107.19 12.59,-112.45 1.26,-119.89"/></g><g transform="translate(340.94,449.3)"><g transform="translate(-1.26,6.35)"><polygon fill="url(#gl)" points="-11.33,-7.44 0,0 0,-113.89 -11.33,-121.33"/></g><g transform="translate(-1.26,6.35)"><polygon fill="url(#gr)" points="0,0 13.86,-5.26 13.86,-119.15 0,-113.89"/></g><polygon fill="#228d8d" points="-12.59,-114.98 -1.26,-107.54 12.59,-112.8 1.26,-120.24"/></g><g transform="translate(312.07,460.25)"><g transform="translate(-1.26,6.35)"><polygon fill="url(#gl)" points="-11.33,-7.44 0,0 0,-112.25 -11.33,-119.69"/></g><g transform="translate(-1.26,6.35)"><polygon fill="url(#gr)" points="0,0 13.86,-5.26 13.86,-117.51 0,-112.25"/></g><polygon fill="#228b8d" points="-12.59,-113.34 -1.26,-105.9 12.59,-111.16 1.26,-118.6"/></g><g transform="translate(283.2,471.2)"><g transform="translate(-1.26,6.35)"><polygon fill="url(#gl)" points="-11.33,-7.44 0,0 0,-105.91 -11.33,-113.35"/></g><g transform="translate(-1.26,6.35)"><polygon fill="url(#gr)" points="0,0 13.86,-5.26 13.86,-111.16 0,-105.91"/></g><polygon fill="#25848e" points="-12.59,-107 -1.26,-99.56 12.59,-104.81 1.26,-112.25"/></g><g transform="translate(595.5,377.2)"><g transform="translate(-1.26,6.35)"><polygon fill="url(#gl)" points="-11.33,-7.44 0,0 0,-69.28 -11.33,-76.72"/></g><g transform="translate(-1.26,6.35)"><polygon fill="url(#gr)" points="0,0 13.86,-5.26 13.86,-74.53 0,-69.28"/></g><polygon fill="#355e8d" points="-12.59,-70.37 -1.26,-62.93 12.59,-68.18 1.26,-75.62"/></g><g transform="translate(566.63,388.15)"><g transform="translate(-1.26,6.35)"><polygon fill="url(#gl)" points="-11.33,-7.44 0,0 0,-72.37 -11.33,-79.81"/></g><g transform="translate(-1.26,6.35)"><polygon fill="url(#gr)" points="0,0 13.86,-5.26 13.86,-77.62 0,-72.37"/></g><polygon fill="#33628d" points="-12.59,-73.46 -1.26,-66.02 12.59,-71.28 1.26,-78.72"/></g><g transform="translate(537.76,399.1)"><g transform="translate(-1.26,6.35)"><polygon fill="url(#gl)" points="-11.33,-7.44 0,0 0,-75.3 -11.33,-82.74"/></g><g transform="translate(-1.26,6.35)"><polygon fill="url(#gr)" points="0,0 13.86,-5.26 13.86,-80.55 0,-75.3"/></g><polygon fill="#32658e" points="-12.59,-76.39 -1.26,-68.95 12.59,-74.2 1.26,-81.64"/></g><g transform="translate(508.89,410.05)"><g transform="translate(-1.26,6.35)"><polygon fill="url(#gl)" points="-11.33,-7.44 0,0 0,-79.39 -11.33,-86.83"/></g><g transform="translate(-1.26,6.35)"><polygon fill="url(#gr)" points="0,0 13.86,-5.26 13.86,-84.65 0,-79.39"/></g><polygon fill="#30698e" points="-12.59,-80.49 -1.26,-73.05 12.59,-78.3 1.26,-85.74"/></g><g transform="translate(480.02,421)"><g transform="translate(-1.26,6.35)"><polygon fill="url(#gl)" points="-11.33,-7.44 0,0 0,-82.98 -11.33,-90.42"/></g><g transform="translate(-1.26,6.35)"><polygon fill="url(#gr)" points="0,0 13.86,-5.26 13.86,-88.23 0,-82.98"/></g><polygon fill="#2e6d8e" points="-12.59,-84.07 -1.26,-76.63 12.59,-81.89 1.26,-89.33"/></g><g transform="translate(451.15,431.95)"><g transform="translate(-1.26,6.35)"><polygon fill="url(#gl)" points="-11.33,-7.44 0,0 0,-87.01 -11.33,-94.45"/></g><g transform="translate(-1.26,6.35)"><polygon fill="url(#gr)" points="0,0 13.86,-5.26 13.86,-92.26 0,-87.01"/></g><polygon fill="#2c718e" points="-12.59,-88.1 -1.26,-80.66 12.59,-85.91 1.26,-93.35"/></g><g transform="translate(422.28,442.9)"><g transform="translate(-1.26,6.35)"><polygon fill="url(#gl)" points="-11.33,-7.44 0,0 0,-90.4 -11.33,-97.84"/></g><g transform="translate(-1.26,6.35)"><polygon fill="url(#gr)" points="0,0 13.86,-5.26 13.86,-95.66 0,-90.4"/></g><polygon fill="#2b748e" points="-12.59,-91.49 -1.26,-84.05 12.59,-89.31 1.26,-96.75"/></g><g transform="translate(393.41,453.85)"><g transform="translate(-1.26,6.35)"><polygon fill="url(#gl)" points="-11.33,-7.44 0,0 0,-92.95 -11.33,-100.39"/></g><g transform="translate(-1.26,6.35)"><polygon fill="url(#gr)" points="0,0 13.86,-5.26 13.86,-98.21 0,-92.95"/></g><polygon fill="#2a778e" points="-12.59,-94.05 -1.26,-86.61 12.59,-91.86 1.26,-99.3"/></g><g transform="translate(364.54,464.8)"><g transform="translate(-1.26,6.35)"><polygon fill="url(#gl)" points="-11.33,-7.44 0,0 0,-93.54 -11.33,-100.98"/></g><g transform="translate(-1.26,6.35)"><polygon fill="url(#gr)" points="0,0 13.86,-5.26 13.86,-98.8 0,-93.54"/></g><polygon fill="#2a788e" points="-12.59,-94.63 -1.26,-87.19 12.59,-92.45 1.26,-99.89"/></g><g transform="translate(335.67,475.75)"><g transform="translate(-1.26,6.35)"><polygon fill="url(#gl)" points="-11.33,-7.44 0,0 0,-92.46 -11.33,-99.9"/></g><g transform="translate(-1.26,6.35)"><polygon fill="url(#gr)" points="0,0 13.86,-5.26 13.86,-97.72 0,-92.46"/></g><polygon fill="#2a778e" points="-12.59,-93.55 -1.26,-86.11 12.59,-91.37 1.26,-98.81"/></g><g transform="translate(306.8,486.7)"><g transform="translate(-1.26,6.35)"><polygon fill="url(#gl)" points="-11.33,-7.44 0,0 0,-88.29 -11.33,-95.73"/></g><g transform="translate(-1.26,6.35)"><polygon fill="url(#gr)" points="0,0 13.86,-5.26 13.86,-93.55 0,-88.29"/></g><polygon fill="#2c728e" points="-12.59,-89.39 -1.26,-81.95 12.59,-87.2 1.26,-94.64"/></g><g transform="translate(619.1,392.7)"><g transform="translate(-1.26,6.35)"><polygon fill="url(#gl)" points="-11.33,-7.44 0,0 0,-54.87 -11.33,-62.31"/></g><g transform="translate(-1.26,6.35)"><polygon fill="url(#gr)" points="0,0 13.86,-5.26 13.86,-60.13 0,-54.87"/></g><polygon fill="#3d4d8a" points="-12.59,-55.97 -1.26,-48.53 12.59,-53.78 1.26,-61.22"/></g><g transform="translate(590.23,403.65)"><g transform="translate(-1.26,6.35)"><polygon fill="url(#gl)" points="-11.33,-7.44 0,0 0,-57.07 -11.33,-64.51"/></g><g transform="translate(-1.26,6.35)"><polygon fill="url(#gr)" points="0,0 13.86,-5.26 13.86,-62.33 0,-57.07"/></g><polygon fill="#3c508b" points="-12.59,-58.17 -1.26,-50.73 12.59,-55.98 1.26,-63.42"/></g><g transform="translate(561.36,414.6)"><g transform="translate(-1.26,6.35)"><polygon fill="url(#gl)" points="-11.33,-7.44 0,0 0,-60.96 -11.33,-68.4"/></g><g transform="translate(-1.26,6.35)"><polygon fill="url(#gr)" points="0,0 13.86,-5.26 13.86,-66.22 0,-60.96"/></g><polygon fill="#3a548c" points="-12.59,-62.05 -1.26,-54.61 12.59,-59.87 1.26,-67.31"/></g><g transform="translate(532.49,425.55)"><g transform="translate(-1.26,6.35)"><polygon fill="url(#gl)" points="-11.33,-7.44 0,0 0,-63.63 -11.33,-71.07"/></g><g transform="translate(-1.26,6.35)"><polygon fill="url(#gr)" points="0,0 13.86,-5.26 13.86,-68.89 0,-63.63"/></g><polygon fill="#38588c" points="-12.59,-64.72 -1.26,-57.28 12.59,-62.54 1.26,-69.98"/></g><g transform="translate(503.62,436.5)"><g transform="translate(-1.26,6.35)"><polygon fill="url(#gl)" points="-11.33,-7.44 0,0 0,-66.47 -11.33,-73.91"/></g><g transform="translate(-1.26,6.35)"><polygon fill="url(#gr)" points="0,0 13.86,-5.26 13.86,-71.72 0,-66.47"/></g><polygon fill="#375b8d" points="-12.59,-67.56 -1.26,-60.12 12.59,-65.37 1.26,-72.81"/></g><g transform="translate(474.75,447.45)"><g transform="translate(-1.26,6.35)"><polygon fill="url(#gl)" points="-11.33,-7.44 0,0 0,-69.32 -11.33,-76.76"/></g><g transform="translate(-1.26,6.35)"><polygon fill="url(#gr)" points="0,0 13.86,-5.26 13.86,-74.58 0,-69.32"/></g><polygon fill="#355e8d" points="-12.59,-70.42 -1.26,-62.98 12.59,-68.23 1.26,-75.67"/></g><g transform="translate(445.88,458.4)"><g transform="translate(-1.26,6.35)"><polygon fill="url(#gl)" points="-11.33,-7.44 0,0 0,-72.37 -11.33,-79.81"/></g><g transform="translate(-1.26,6.35)"><polygon fill="url(#gr)" points="0,0 13.86,-5.26 13.86,-77.62 0,-72.37"/></g><polygon fill="#33628d" points="-12.59,-73.46 -1.26,-66.02 12.59,-71.28 1.26,-78.72"/></g><g transform="translate(417.01,469.35)"><g transform="translate(-1.26,6.35)"><polygon fill="url(#gl)" points="-11.33,-7.44 0,0 0,-74.64 -11.33,-82.08"/></g><g transform="translate(-1.26,6.35)"><polygon fill="url(#gr)" points="0,0 13.86,-5.26 13.86,-79.9 0,-74.64"/></g><polygon fill="#32648e" points="-12.59,-75.73 -1.26,-68.29 12.59,-73.55 1.26,-80.99"/></g><g transform="translate(388.14,480.3)"><g transform="translate(-1.26,6.35)"><polygon fill="url(#gl)" points="-11.33,-7.44 0,0 0,-75.86 -11.33,-83.3"/></g><g transform="translate(-1.26,6.35)"><polygon fill="url(#gr)" points="0,0 13.86,-5.26 13.86,-81.11 0,-75.86"/></g><polygon fill="#32658e" points="-12.59,-76.95 -1.26,-69.51 12.59,-74.77 1.26,-82.21"/></g><g transform="translate(359.27,491.25)"><g transform="translate(-1.26,6.35)"><polygon fill="url(#gl)" points="-11.33,-7.44 0,0 0,-74.52 -11.33,-81.96"/></g><g transform="translate(-1.26,6.35)"><polygon fill="url(#gr)" points="0,0 13.86,-5.26 13.86,-79.78 0,-74.52"/></g><polygon fill="#32648e" points="-12.59,-75.61 -1.26,-68.17 12.59,-73.43 1.26,-80.87"/></g><g transform="translate(330.4,502.2)"><g transform="translate(-1.26,6.35)"><polygon fill="url(#gl)" points="-11.33,-7.44 0,0 0,-71.48 -11.33,-78.92"/></g><g transform="translate(-1.26,6.35)"><polygon fill="url(#gr)" points="0,0 13.86,-5.26 13.86,-76.73 0,-71.48"/></g><polygon fill="#34618d" points="-12.59,-72.57 -1.26,-65.13 12.59,-70.39 1.26,-77.83"/></g><g transform="translate(642.7,408.2)"><g transform="translate(-1.26,6.35)"><polygon fill="url(#gl)" points="-11.33,-7.44 0,0 0,-42.04 -11.33,-49.48"/></g><g transform="translate(-1.26,6.35)"><polygon fill="url(#gr)" points="0,0 13.86,-5.26 13.86,-47.29 0,-42.04"/></g><polygon fill="#433d84" points="-12.59,-43.13 -1.26,-35.69 12.59,-40.95 1.26,-48.39"/></g><g transform="translate(613.83,419.15)"><g transform="translate(-1.26,6.35)"><polygon fill="url(#gl)" points="-11.33,-7.44 0,0 0,-45.11 -11.33,-52.55"/></g><g transform="translate(-1.26,6.35)"><polygon fill="url(#gr)" points="0,0 13.86,-5.26 13.86,-50.36 0,-45.11"/></g><polygon fill="#424186" points="-12.59,-46.2 -1.26,-38.76 12.59,-44.01 1.26,-51.45"/></g><g transform="translate(584.96,430.1)"><g transform="translate(-1.26,6.35)"><polygon fill="url(#gl)" points="-11.33,-7.44 0,0 0,-47.85 -11.33,-55.29"/></g><g transform="translate(-1.26,6.35)"><polygon fill="url(#gr)" points="0,0 13.86,-5.26 13.86,-53.1 0,-47.85"/></g><polygon fill="#404588" points="-12.59,-48.94 -1.26,-41.5 12.59,-46.76 1.26,-54.2"/></g><g transform="translate(556.09,441.05)"><g transform="translate(-1.26,6.35)"><polygon fill="url(#gl)" points="-11.33,-7.44 0,0 0,-49.53 -11.33,-56.97"/></g><g transform="translate(-1.26,6.35)"><polygon fill="url(#gr)" points="0,0 13.86,-5.26 13.86,-54.79 0,-49.53"/></g><polygon fill="#3f4788" points="-12.59,-50.63 -1.26,-43.19 12.59,-48.44 1.26,-55.88"/></g><g transform="translate(527.22,452)"><g transform="translate(-1.26,6.35)"><polygon fill="url(#gl)" points="-11.33,-7.44 0,0 0,-52.04 -11.33,-59.48"/></g><g transform="translate(-1.26,6.35)"><polygon fill="url(#gr)" points="0,0 13.86,-5.26 13.86,-57.3 0,-52.04"/></g><polygon fill="#3e4989" points="-12.59,-53.13 -1.26,-45.69 12.59,-50.95 1.26,-58.39"/></g><g transform="translate(498.35,462.95)"><g transform="translate(-1.26,6.35)"><polygon fill="url(#gl)" points="-11.33,-7.44 0,0 0,-54.92 -11.33,-62.36"/></g><g transform="translate(-1.26,6.35)"><polygon fill="url(#gr)" points="0,0 13.86,-5.26 13.86,-60.18 0,-54.92"/></g><polygon fill="#3d4e8a" points="-12.59,-56.01 -1.26,-48.57 12.59,-53.83 1.26,-61.27"/></g><g transform="translate(469.48,473.9)"><g transform="translate(-1.26,6.35)"><polygon fill="url(#gl)" points="-11.33,-7.44 0,0 0,-56.44 -11.33,-63.88"/></g><g transform="translate(-1.26,6.35)"><polygon fill="url(#gr)" points="0,0 13.86,-5.26 13.86,-61.7 0,-56.44"/></g><polygon fill="#3c4f8a" points="-12.59,-57.53 -1.26,-50.09 12.59,-55.35 1.26,-62.79"/></g><g transform="translate(440.61,484.85)"><g transform="translate(-1.26,6.35)"><polygon fill="url(#gl)" points="-11.33,-7.44 0,0 0,-58.22 -11.33,-65.66"/></g><g transform="translate(-1.26,6.35)"><polygon fill="url(#gr)" points="0,0 13.86,-5.26 13.86,-63.48 0,-58.22"/></g><polygon fill="#3b518b" points="-12.59,-59.31 -1.26,-51.87 12.59,-57.13 1.26,-64.57"/></g><g transform="translate(411.74,495.8)"><g transform="translate(-1.26,6.35)"><polygon fill="url(#gl)" points="-11.33,-7.44 0,0 0,-59.46 -11.33,-66.9"/></g><g transform="translate(-1.26,6.35)"><polygon fill="url(#gr)" points="0,0 13.86,-5.26 13.86,-64.72 0,-59.46"/></g><polygon fill="#3b528b" points="-12.59,-60.56 -1.26,-53.12 12.59,-58.37 1.26,-65.81"/></g><g transform="translate(382.87,506.75)"><g transform="translate(-1.26,6.35)"><polygon fill="url(#gl)" points="-11.33,-7.44 0,0 0,-59.44 -11.33,-66.88"/></g><g transform="translate(-1.26,6.35)"><polygon fill="url(#gr)" points="0,0 13.86,-5.26 13.86,-64.7 0,-59.44"/></g><polygon fill="#3b528b" points="-12.59,-60.53 -1.26,-53.09 12.59,-58.35 1.26,-65.79"/></g><g transform="translate(354,517.7)"><g transform="translate(-1.26,6.35)"><polygon fill="url(#gl)" points="-11.33,-7.44 0,0 0,-57.24 -11.33,-64.68"/></g><g transform="translate(-1.26,6.35)"><polygon fill="url(#gr)" points="0,0 13.86,-5.26 13.86,-62.49 0,-57.24"/></g><polygon fill="#3c508b" points="-12.59,-58.33 -1.26,-50.89 12.59,-56.15 1.26,-63.59"/></g></g>
<g fill="none" stroke="#0a0a0a" stroke-width="2.2" stroke-linejoin="miter"><polyline points="87.6,116.6 87.6,350.8 352.3,524.5 654.4,408.5"/><line x1="110.23" y1="365.65" x2="104.71" y2="367.74"/><line x1="133.84" y1="381.14" x2="128.32" y2="383.24"/><line x1="157.45" y1="396.64" x2="151.94" y2="398.73"/><line x1="181.07" y1="412.13" x2="175.55" y2="414.23"/><line x1="204.68" y1="427.63" x2="199.16" y2="429.72"/><line x1="228.29" y1="443.12" x2="222.77" y2="445.22"/><line x1="251.9" y1="458.62" x2="246.39" y2="460.71"/><line x1="275.52" y1="474.11" x2="270" y2="476.21"/><line x1="299.13" y1="489.61" x2="293.61" y2="491.7"/><line x1="322.74" y1="505.1" x2="317.23" y2="507.2"/><line x1="346.36" y1="520.6" x2="340.84" y2="522.69"/><line x1="359.91" y1="521.58" x2="364.84" y2="524.82"/><line x1="388.65" y1="510.54" x2="393.58" y2="513.78"/><line x1="417.39" y1="499.51" x2="422.32" y2="502.75"/><line x1="446.13" y1="488.47" x2="451.06" y2="491.71"/><line x1="474.87" y1="477.44" x2="479.8" y2="480.68"/><line x1="503.61" y1="466.4" x2="508.54" y2="469.64"/><line x1="532.35" y1="455.37" x2="537.28" y2="458.61"/><line x1="561.09" y1="444.33" x2="566.02" y2="447.57"/><line x1="589.83" y1="433.3" x2="594.76" y2="436.53"/><line x1="618.57" y1="422.26" x2="623.5" y2="425.5"/><line x1="647.3" y1="411.22" x2="652.24" y2="414.46"/><line x1="87.6" y1="350.8" x2="82.67" y2="347.56"/><line x1="87.6" y1="303.96" x2="82.67" y2="300.72"/><line x1="87.6" y1="257.12" x2="82.67" y2="253.88"/><line x1="87.6" y1="210.28" x2="82.67" y2="207.04"/><line x1="87.6" y1="163.44" x2="82.67" y2="160.2"/><line x1="87.6" y1="116.6" x2="82.67" y2="113.36"/></g>
<g font-family="'Liberation Sans',Arial,sans-serif" font-size="22.6" fill="#141414" stroke="#141414" stroke-width="0.65"><text transform="translate(76.4,352.3) scale(0.915,1)" text-anchor="end">0</text><text transform="translate(76.4,305.46) scale(0.915,1)" text-anchor="end">0.2</text><text transform="translate(76.4,258.62) scale(0.915,1)" text-anchor="end">0.4</text><text transform="translate(76.4,211.78) scale(0.915,1)" text-anchor="end">0.6</text><text transform="translate(76.4,164.94) scale(0.915,1)" text-anchor="end">0.8</text><text transform="translate(76.4,118.1) scale(0.915,1)" text-anchor="end">1</text><text transform="translate(87.63,388.65) rotate(-52) scale(0.915,1)" text-anchor="middle"><tspan dy="7.91">0</tspan></text><text transform="translate(111.24,404.14) rotate(-52) scale(0.915,1)" text-anchor="middle"><tspan dy="7.91">0.05</tspan></text><text transform="translate(134.85,419.64) rotate(-52) scale(0.915,1)" text-anchor="middle"><tspan dy="7.91">0.1</tspan></text><text transform="translate(158.47,435.13) rotate(-52) scale(0.915,1)" text-anchor="middle"><tspan dy="7.91">0.15</tspan></text><text transform="translate(182.08,450.63) rotate(-52) scale(0.915,1)" text-anchor="middle"><tspan dy="7.91">0.2</tspan></text><text transform="translate(205.69,466.12) rotate(-52) scale(0.915,1)" text-anchor="middle"><tspan dy="7.91">0.25</tspan></text><text transform="translate(229.3,481.62) rotate(-52) scale(0.915,1)" text-anchor="middle"><tspan dy="7.91">0.3</tspan></text><text transform="translate(252.92,497.11) rotate(-52) scale(0.915,1)" text-anchor="middle"><tspan dy="7.91">0.35</tspan></text><text transform="translate(276.53,512.61) rotate(-52) scale(0.915,1)" text-anchor="middle"><tspan dy="7.91">0.4</tspan></text><text transform="translate(300.14,528.1) rotate(-52) scale(0.915,1)" text-anchor="middle"><tspan dy="7.91">0.45</tspan></text><text transform="translate(323.76,543.6) rotate(-52) scale(0.915,1)" text-anchor="middle"><tspan dy="7.91">0.5</tspan></text><text transform="translate(376.41,541.98) rotate(66) scale(0.915,1)" text-anchor="middle"><tspan dy="7.91">0.0</tspan></text><text transform="translate(405.15,530.94) rotate(66) scale(0.915,1)" text-anchor="middle"><tspan dy="7.91">0.1</tspan></text><text transform="translate(433.89,519.91) rotate(66) scale(0.915,1)" text-anchor="middle"><tspan dy="7.91">0.1</tspan></text><text transform="translate(462.63,508.87) rotate(66) scale(0.915,1)" text-anchor="middle"><tspan dy="7.91">0.2</tspan></text><text transform="translate(491.37,497.84) rotate(66) scale(0.915,1)" text-anchor="middle"><tspan dy="7.91">0.2</tspan></text><text transform="translate(520.11,486.8) rotate(66) scale(0.915,1)" text-anchor="middle"><tspan dy="7.91">0.2</tspan></text><text transform="translate(548.85,475.77) rotate(66) scale(0.915,1)" text-anchor="middle"><tspan dy="7.91">0.3</tspan></text><text transform="translate(577.59,464.73) rotate(66) scale(0.915,1)" text-anchor="middle"><tspan dy="7.91">0.3</tspan></text><text transform="translate(606.33,453.7) rotate(66) scale(0.915,1)" text-anchor="middle"><tspan dy="7.91">0.4</tspan></text><text transform="translate(635.07,442.66) rotate(66) scale(0.915,1)" text-anchor="middle"><tspan dy="7.91">0.5</tspan></text><text transform="translate(663.8,431.62) rotate(66) scale(0.915,1)" text-anchor="middle"><tspan dy="7.91">0.5</tspan></text><text transform="translate(23.5,247.5) rotate(-90) scale(0.915,1)" font-size="25.5">A<tspan dy="12.4" font-size="21.5">s</tspan></text><text x="0" y="0" font-family="'Liberation Serif','DejaVu Serif',serif" font-style="italic" font-size="27" transform="translate(172,559.7) scale(1.0,1) translate(0,0)">α</text><text transform="translate(187,570.2) scale(0.915,1)" font-size="21.5">sm</text><text x="0" y="0" font-family="'Liberation Serif','DejaVu Serif',serif" font-style="italic" font-size="27" transform="translate(491.2,561.9) scale(1.0,1) translate(0,0)">α</text><text transform="translate(507,573.1) scale(0.915,1)" font-size="21.5">ms</text></g>
</g>
</svg>
</body></html>
